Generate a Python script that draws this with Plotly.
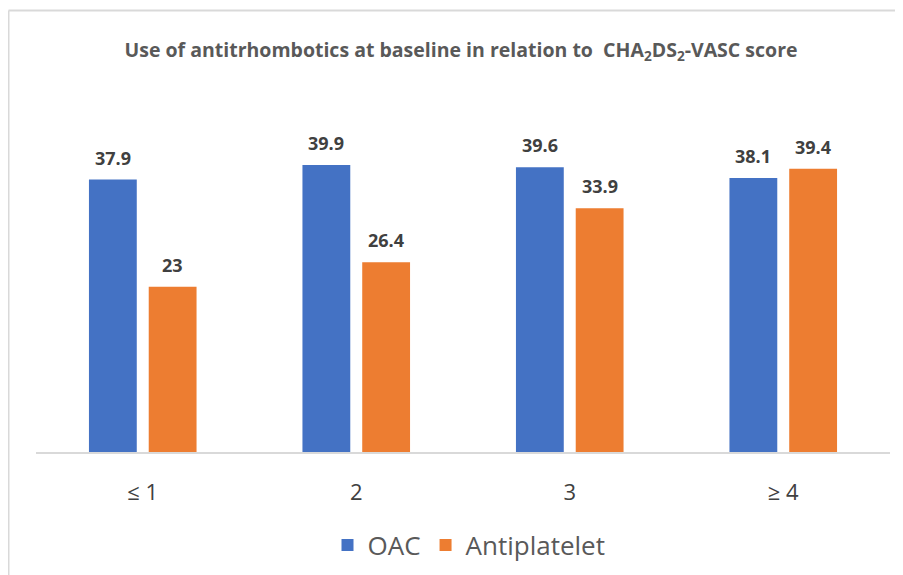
import plotly.graph_objects as go

categories = ["≤ 1", "2", "3", "≥ 4"]
oac = [37.9, 39.9, 39.6, 38.1]
antiplatelet = [23, 26.4, 33.9, 39.4]
series_names = ["OAC", "Antiplatelet"]
colors = ["#4472C4", "#ED7D31"]

# page body has an 8px margin; figure coordinates = reference pixels - 8
OFF = 8
W, H = 903 - OFF, 575 - OFF
L, R, T, B = 36 - OFF, 13, 100 - OFF, 123
pw, ph = W - L - R, H - T - B

fig = go.Figure()
for name, vals, col in zip(series_names, [oac, antiplatelet], colors):
    fig.add_trace(go.Bar(x=categories, y=vals, name=name, marker=dict(color=col, line=dict(width=0))))

# value labels (numeric category index to avoid "2"/"3" ambiguity)
for vals, shift in [(oac, -30), (antiplatelet, 30)]:
    for i, v in enumerate(vals):
        fig.add_annotation(x=i, y=v, xref="x", yref="y", text=f"<b>{v:g}</b>",
                           showarrow=False, yanchor="bottom", xshift=shift, yshift=8,
                           font=dict(size=18, color="#404040", family="Open Sans"))

def px_to_paper_x(px):
    return (px - OFF - L) / pw

def px_to_paper_y(py):
    return (H - B - (py - OFF)) / ph

bx, by = px_to_paper_x(8.5), px_to_paper_y(10.5)
fig.add_shape(type="line", xref="paper", yref="paper", x0=bx, x1=bx, y0=px_to_paper_y(580), y1=by,
              line=dict(color="#D9D9D9", width=2))
fig.add_shape(type="line", xref="paper", yref="paper", x0=bx, x1=px_to_paper_x(910), y0=by, y1=by,
              line=dict(color="#D9D9D9", width=2))

fig.update_layout(
    width=W, height=H,
    margin=dict(l=L, r=R, t=T, b=B),
    paper_bgcolor="white", plot_bgcolor="white",
    barmode="group", bargap=0.44, bargroupgap=0.2,
    title=dict(text="<b>Use of antitrhombotics at baseline in relation to  CHA<sub>2</sub>DS<sub>2</sub>-VASC score</b>",
               x=(461 - OFF) / W, xanchor="center", xref="container",
               y=1 - (50 - OFF) / H, yanchor="middle", yref="container",
               font=dict(size=19.5, color="#595959", family="Open Sans")),
    legend=dict(orientation="h", x=(469 - OFF) / W, xanchor="center", xref="container",
                y=1 - (545 - OFF) / H, yanchor="middle", yref="container",
                font=dict(size=26, color="#595959", family="Open Sans"),
                itemwidth=30, traceorder="normal"),
    showlegend=True,
)
fig.update_xaxes(showline=True, linecolor="#D9D9D9", linewidth=2, showgrid=False,
                 ticks="outside", ticklen=20, tickcolor="rgba(0,0,0,0)",
                 tickfont=dict(size=22, color="#404040", family="Open Sans"))
fig.update_yaxes(range=[0, ph / 7.19], visible=False, showgrid=False, zeroline=False)

fig.write_html("out.html")
